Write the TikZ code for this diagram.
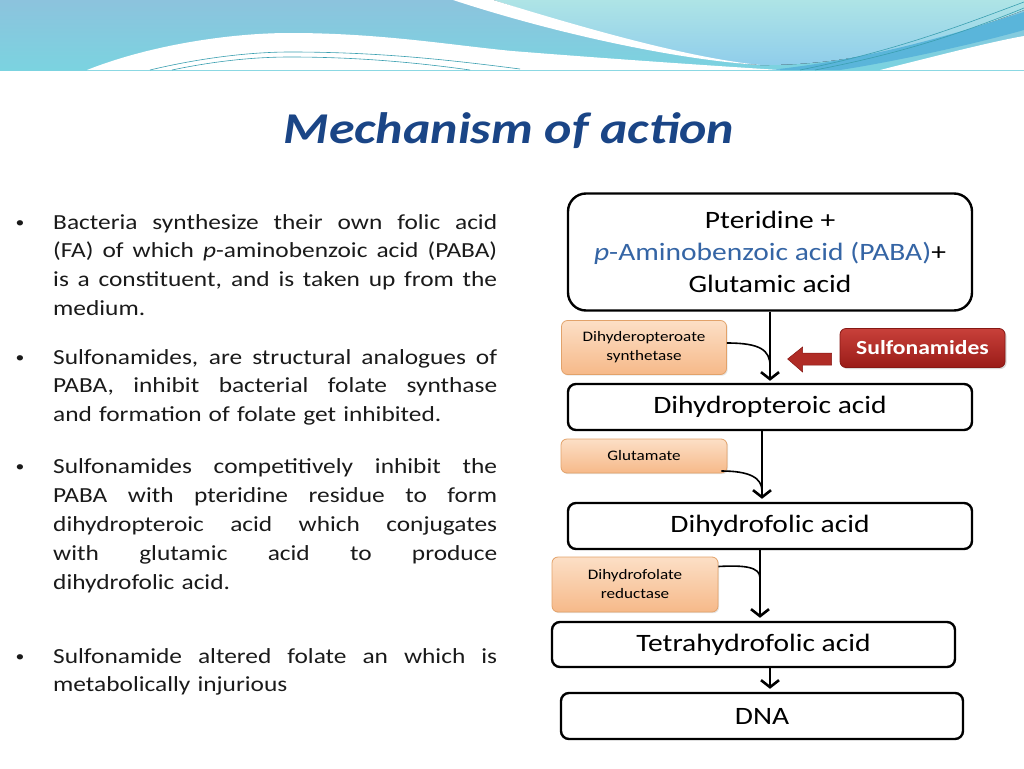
\documentclass[tikz,border=0pt]{standalone}
\usepackage{fontspec}
\setmainfont{Carlito}[FakeStretch=1.18]
\usetikzlibrary{arrows.meta,shadows,calc}
\definecolor{hdA}{HTML}{8CC3DD}
\definecolor{hdB}{HTML}{7BD3E0}
\definecolor{ltA}{HTML}{AEE4E6}
\definecolor{ltB}{HTML}{8FCDEB}
\definecolor{bandblue}{HTML}{5AB5DA}
\definecolor{tealline}{HTML}{3A9FB0}
\definecolor{titleblue}{HTML}{1A4586}
\definecolor{pabablue}{HTML}{3565A5}
\definecolor{orangeT}{HTML}{FCDFC6}
\definecolor{orangeM}{HTML}{F6B989}
\definecolor{orangeB}{HTML}{E2A26A}
\definecolor{redT}{HTML}{C8403A}
\definecolor{redM}{HTML}{9A1C18}
\definecolor{redB}{HTML}{861814}
\definecolor{arrowred}{HTML}{B02C26}
\definecolor{textgray}{HTML}{1A1A1A}
\tikzset{
  mainbox/.style={draw=black, line width=2.4pt, rounded corners=8pt, fill=white,
    font=\fontsize{25}{32}\selectfont, inner sep=0pt, align=center},
  enzbox/.style={draw=orangeB, line width=0.8pt, rounded corners=6pt,
    top color=orangeT, bottom color=orangeM, font=\fontsize{14.5}{19}\selectfont,
    align=center, inner sep=0pt,
    drop shadow={opacity=0.2, shadow xshift=1.2pt, shadow yshift=-1.2pt}},
  sulfabox/.style={draw=redB, line width=0.8pt, rounded corners=6pt,
    top color=redT, bottom color=redM, text=white,
    font=\fontsize{20}{24}\selectfont\bfseries, inner sep=0pt,
    drop shadow={opacity=0.3, shadow xshift=1.5pt, shadow yshift=-1.5pt}},
  flow/.style={line width=2.6pt, -{Straight Barb[length=7pt,width=18pt]}},
  joiner/.style={line width=1.6pt},
  para/.style={anchor=base west, inner sep=0pt, text width=444pt, align=left,
    font=\fontsize{21.5}{28.8}\selectfont, text=textgray},
  bullet/.style={anchor=base, inner sep=0pt, font=\fontsize{15}{20}\selectfont, text=textgray}
}
\newcommand{\jl}[1]{\makebox[444pt][s]{\spaceskip=0.3333em plus 1fil\relax #1}}
\begin{document}
\begin{tikzpicture}[x=1pt,y=-1pt]
\useasboundingbox (0,0) rectangle (1024,768);
% ---------- header band ----------
\fill[top color=hdA, bottom color=hdB] (0,0) rectangle (1024,70);
\fill[top color=ltA, bottom color=ltB] (493,0) .. controls (600,35) and (690,60) .. (760,65)
   .. controls (860,66) and (960,35) .. (1024,10) -- (1024,0) -- cycle;
\fill[white] (453,0) .. controls (560,35) and (680,60) .. (760,65)
   .. controls (690,58) and (590,30) .. (493,0) -- cycle;
\fill[bandblue] (770,70) .. controls (880,58) and (960,32) .. (1024,12) -- (1024,30)
   .. controls (960,48) and (880,64) .. (840,70) -- cycle;
\fill[white] (880,70) .. controls (940,55) and (990,42) .. (1024,36) -- (1024,70) -- cycle;
\fill[white] (87,70) .. controls (150,45) and (230,33) .. (290,33)
   .. controls (380,33) and (450,45) .. (512,51) .. controls (600,58) and (700,65) .. (780,70) -- cycle;
\draw[tealline, line width=0.6pt] (150,70) .. controls (200,58) and (250,52) .. (290,52)
   .. controls (380,52) and (450,60) .. (520,69);
\draw[tealline, line width=0.6pt] (172,70) .. controls (210,62) and (250,57) .. (290,57)
   .. controls (360,57) and (420,63) .. (470,70);
\draw[tealline, line width=0.6pt] (800,70) .. controls (900,50) and (970,22) .. (1024,2);
\draw[tealline, line width=0.6pt] (815,70) .. controls (910,52) and (975,28) .. (1024,8);
% ---------- title ----------
\node[anchor=base, inner sep=0pt, text=titleblue] (title) at (509,143)
  {\fontsize{44}{50}\selectfont\bfseries\itshape Mechanism of action};
% ---------- left text ----------
\node[bullet] (b1) at (20,227) {•};
\node[para] (p1) at (53,229) {\jl{Bacteria synthesize their own folic acid}\\
  \jl{(FA) of which \textit{p}-aminobenzoic acid (PABA)}\\
  \jl{is a constituent, and is taken up from the}\\
  medium.};
\node[bullet] (b2) at (20,362) {•};
\node[para] (p2) at (53,364) {\jl{Sulfonamides, are structural analogues of}\\
  \jl{PABA, inhibit bacterial folate synthase}\\
  and formation of folate get inhibited.};
\node[bullet] (b3) at (20,471) {•};
\node[para, font=\fontsize{21.5}{29.2}\selectfont] (p3) at (53,473) {\jl{Sulfonamides competitively inhibit the}\\
  \jl{PABA with pteridine residue to form}\\
  \jl{dihydropteroic acid which conjugates}\\
  \jl{with glutamic acid to produce}\\
  dihydrofolic acid.};
\node[bullet] (b4) at (20,661) {•};
\node[para] (p4) at (53,663) {\jl{Sulfonamide altered folate an which is}\\
  metabolically injurious};
% ---------- flow chart ----------
\node[mainbox, rounded corners=18pt, minimum width=404pt, minimum height=117pt] (n1) at (770,252)
  {Pteridine +\\ {\color{pabablue}\textit{p}-Aminobenzoic acid (PABA)}+\\ Glutamic acid};
\node[mainbox, minimum width=404pt, minimum height=46pt] (n2) at (770,407) {Dihydropteroic acid};
\node[mainbox, minimum width=404pt, minimum height=46pt] (n3) at (770,526) {Dihydrofolic acid};
\node[mainbox, minimum width=403pt, minimum height=45pt] (n4) at (753.5,644.5) {Tetrahydrofolic acid};
\node[mainbox, minimum width=402pt, minimum height=46pt] (n5) at (762,716) {DNA};
\node[enzbox, minimum width=165pt, minimum height=54pt] (e1) at (644,347.5) {Dihyderopteroate\\ synthetase};
\node[enzbox, minimum width=166pt, minimum height=34pt] (e2) at (644,456) {Glutamate};
\node[enzbox, minimum width=166pt, minimum height=55pt] (e3) at (635,584.5) {Dihydrofolate\\ reductase};
\node[sulfabox, minimum width=165pt, minimum height=39pt] (s1) at (922.5,348) {Sulfonamides};
% main arrows
\draw[flow, shorten >=2pt] (n1.south) -- (n2.north);
\draw[flow, shorten >=3pt] ([xshift=-8pt]n2.south) -- ([xshift=-8pt]n3.north);
\draw[flow, shorten >=3pt] ([xshift=-10pt]n3.south) -- ([xshift=6.5pt]n4.north);
\draw[flow, shorten >=3pt] ([xshift=16.5pt]n4.south) -- ([xshift=8pt]n5.north);
% joining curves
\coordinate (j1) at (770,366);
\coordinate (j2) at (762,491);
\coordinate (j3) at (760,578);
\draw[joiner] ([yshift=4.5pt]e1.east) .. controls (760,343) and (770,350) .. (j1);
\draw[joiner] ([xshift=-6pt,yshift=-15pt]e2.east) .. controls (750,471) and (762,478) .. (j2);
\draw[joiner] ([yshift=18pt]e3.east) .. controls (745,565) and (760,567) .. (j3);
% red block arrow
\fill[arrowred, draw=redB, line width=0.5pt]
  ([xshift=-8pt,yshift=-5pt]s1.west) -- ++(-29,0) -- ++(0,-6) -- ++(-15,12) -- ++(15,13) -- ++(0,-7) -- ++(29,0) -- cycle;
\end{tikzpicture}
\end{document}
